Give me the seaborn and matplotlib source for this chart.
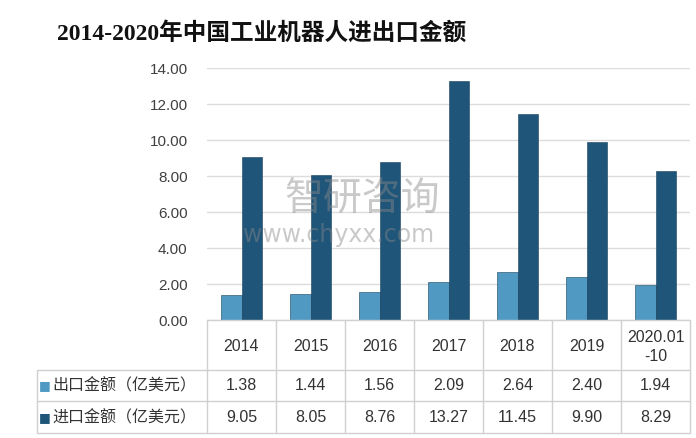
import matplotlib
matplotlib.use("Agg")
import matplotlib.pyplot as plt
import matplotlib.transforms as mtransforms
from matplotlib.lines import Line2D
from matplotlib import font_manager
import seaborn as sns
import pandas as pd

periods = ["2014", "2015", "2016", "2017", "2018", "2019", "2020.01\n-10"]
export_vals = [1.38, 1.44, 1.56, 2.09, 2.64, 2.40, 1.94]
import_vals = [9.05, 8.05, 8.76, 13.27, 11.45, 9.90, 8.29]
series_names = ["出口金额（亿美元）", "进口金额（亿美元）"]
yticks = [0, 2, 4, 6, 8, 10, 12, 14]
title = "2014-2020年中国工业机器人进出口金额"

colors = ["#5099c2", "#1f5579"]

avail = {f.name for f in font_manager.fontManager.ttflist}
narrow = "Liberation Sans Narrow" if "Liberation Sans Narrow" in avail else "Liberation Sans"

sns.set_theme(style="white")
plt.rcParams["font.family"] = [narrow, "Noto Sans CJK SC", "DejaVu Sans"]

df = pd.DataFrame({
    "period": periods * 2,
    "value": export_vals + import_vals,
    "series": [series_names[0]] * len(periods) + [series_names[1]] * len(periods),
})

W, H = 696, 439
fig = plt.figure(figsize=(W / 100, H / 100), dpi=100)
ax_l, ax_r, ax_t, ax_b = 207, 690, 69, 321
ax = fig.add_axes([ax_l / W, (H - ax_b) / H, (ax_r - ax_l) / W, (ax_b - ax_t) / H])

sns.barplot(data=df, x="period", y="value", hue="series", palette=colors,
            width=0.6, ax=ax, legend=False, edgecolor="#16405c", linewidth=0.4,
            saturation=1)

ax.set_ylim(0, 14)
ax.set_xlim(-0.5, len(periods) - 0.5)
ax.set_yticks(yticks)
ax.set_yticklabels([f"{v:.2f}" for v in yticks], fontsize=11, color="#404040")
ax.set_xticks([])
ax.set_xlabel("")
ax.set_ylabel("")
ax.tick_params(axis="y", length=0, pad=14)
ax.yaxis.grid(True, color="#dcdcdc", linewidth=1)
ax.set_axisbelow(True)
for s in ax.spines.values():
    s.set_visible(False)

# Title
fig.text(262 / W, 1 - 33 / H, title, ha="center", va="center", fontsize=17,
         color="#111111", fontweight="bold",
         family=["Liberation Serif", "Noto Sans CJK SC"])

# Watermark
ax.text(0.16, 0.48, "智研咨询", transform=ax.transAxes, fontsize=28,
        color="#888888", alpha=0.45, ha="left", va="center",
        family=["Noto Sans CJK SC"])
ax.text(0.075, 0.34, "www.chyxx.com", transform=ax.transAxes, fontsize=17,
        color="#888888", alpha=0.45, ha="left", va="center",
        family=["DejaVu Sans"])

# Data table below the axis
tr = mtransforms.blended_transform_factory(ax.transData, fig.transFigure)
line_c = "#d0d0d0"
row_lines = [321, 371, 402, 434]
left_px = 37
fy = lambda p: 1 - p / H
fig.add_artist(Line2D([ax_l / W, ax_r / W], [fy(321), fy(321)], color=line_c, lw=1))
for yp in row_lines[1:]:
    fig.add_artist(Line2D([left_px / W, ax_r / W], [fy(yp), fy(yp)], color=line_c, lw=1))
for i in range(len(periods) + 1):
    x = i - 0.5
    fig.add_artist(Line2D([x, x], [fy(321), fy(434)], color=line_c, lw=1, transform=tr))
fig.add_artist(Line2D([left_px / W, left_px / W], [fy(371), fy(434)], color=line_c, lw=1))

txt_c = "#333333"
for i, p in enumerate(periods):
    fig.text(i, fy(347), p, transform=tr, ha="center", va="center",
             fontsize=11.5, color=txt_c, linespacing=1.3)
    fig.text(i, fy(386), f"{export_vals[i]:.2f}", transform=tr, ha="center",
             va="center", fontsize=11.5, color=txt_c)
    fig.text(i, fy(418), f"{import_vals[i]:.2f}", transform=tr, ha="center",
             va="center", fontsize=11.5, color=txt_c)

for j, (name, yc) in enumerate(zip(series_names, [386, 418])):
    fig.text(39 / W, fy(yc), "■", ha="left", va="center", fontsize=9,
             color=colors[j], family=["DejaVu Sans"])
    fig.text(52 / W, fy(yc), name, ha="left", va="center", fontsize=11.5,
             color=txt_c, family=["Noto Sans CJK SC"])

fig.savefig("out.png", dpi=100, facecolor="white")
